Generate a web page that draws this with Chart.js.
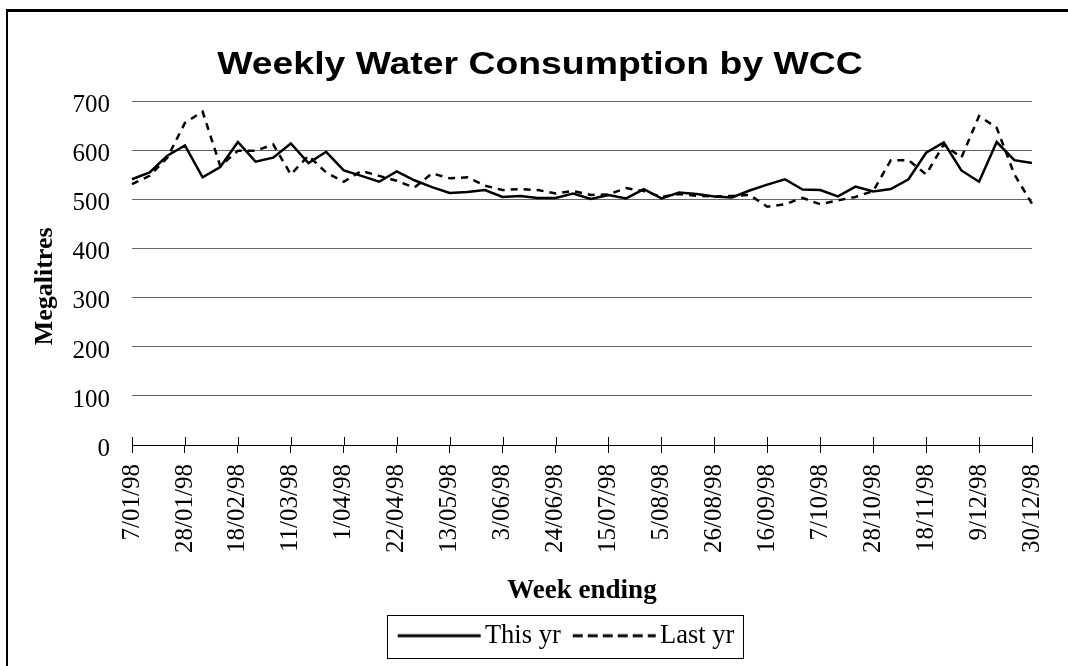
<!DOCTYPE html>
<html>
<head>
<meta charset="utf-8">
<script src="https://cdn.jsdelivr.net/npm/chart.js@4.4.0/dist/chart.umd.min.js"></script>
<style>
    html, body { margin: 0; padding: 0; background: #fff; overflow: hidden; }
    #frame { position: absolute; left: 6px; top: 9px; width: 1200px; height: 800px; border-left: 2px solid #000; border-top: 3px solid #000; }
    #wrap { position: absolute; left: 0; top: 0; width: 1068px; height: 666px; }
</style>
</head>
<body>
<div id="frame"></div>
<div id="wrap"><canvas id="myChart" width="1068" height="666"></canvas></div>
<script>
// week ending dates, 1998
const weeks = [
    '7/01/98', '14/01/98', '21/01/98', '28/01/98',
    '4/02/98', '11/02/98', '18/02/98', '25/02/98',
    '4/03/98', '11/03/98', '18/03/98', '25/03/98',
    '1/04/98', '8/04/98', '15/04/98', '22/04/98', '29/04/98',
    '6/05/98', '13/05/98', '20/05/98', '27/05/98',
    '3/06/98', '10/06/98', '17/06/98', '24/06/98',
    '1/07/98', '8/07/98', '15/07/98', '22/07/98', '29/07/98',
    '5/08/98', '12/08/98', '19/08/98', '26/08/98',
    '2/09/98', '9/09/98', '16/09/98', '23/09/98', '30/09/98',
    '7/10/98', '14/10/98', '21/10/98', '28/10/98',
    '4/11/98', '11/11/98', '18/11/98', '25/11/98',
    '2/12/98', '9/12/98', '16/12/98', '23/12/98', '30/12/98'
];

// megalitres per week
const thisYr = [
    542, 556, 590, 611, 546, 567, 618, 578, 586, 615, 575, 598, 560,
    549, 537, 558, 540, 526, 514, 516, 520, 506, 508, 504, 504, 513,
    502, 510, 503, 522, 503, 515, 512, 507, 505, 519, 531, 542, 521,
    520, 507, 527, 517, 522, 542, 596, 617, 560, 537, 618, 581, 575
];
const lastYr = [
    532, 549, 586, 657, 680, 569, 600, 600, 613, 552, 590, 556, 537,
    559, 549, 539, 525, 554, 544, 546, 529, 520, 522, 520, 513, 518,
    510, 511, 524, 518, 506, 512, 508, 507, 508, 510, 486, 491, 504,
    491, 499, 506, 518, 581, 581, 552, 613, 586, 671, 647, 552, 492
];

const yMin = 0;
const yMax = 700;
const yStep = 100;
const labelEvery = 3;

const serif = 'Liberation Serif';
const titleStretch = 1.186;   // the original title is drawn wide

// little line pictures for the legend (Chart.js skips the dash on point-style legends)
function lineSample(dash) {
    const c = document.createElement('canvas');
    c.width = 94;
    c.height = 6;
    const g = c.getContext('2d');
    g.strokeStyle = '#000';
    g.lineWidth = 3;
    g.setLineDash(dash);
    g.beginPath();
    g.moveTo(10, 3);
    g.lineTo(93, 3);
    g.stroke();
    return c;
}

// legend box, upper half of the x ticks, and nudging title/legend sideways
const extras = {
    id: 'extras',
    afterLayout(chart) {
        chart.legend.left += 50;
        chart.legend.right += 50;
        const tb = chart.titleBlock;
        tb.left += 24;
        tb.right += 24;
        if (!tb._stretched) {
            const draw = tb.draw;
            tb.draw = function () {
                const c = this.ctx;
                const cx = (this.left + this.right) / 2;
                c.save();
                c.translate(cx, 0);
                c.scale(titleStretch, 1);
                c.translate(-cx, 0);
                draw.call(this);
                c.restore();
            };
            tb._stretched = true;
        }
    },
    afterDraw(chart) {
        const ctx = chart.ctx;
        const xs = chart.scales.x;
        const bottom = chart.chartArea.bottom;
        ctx.save();
        ctx.strokeStyle = '#000';
        ctx.lineWidth = 1;
        ctx.beginPath();
        for (let i = 0; i < weeks.length; i += labelEvery) {
            const px = Math.round(xs.getPixelForValue(i)) + 0.5;
            ctx.moveTo(px, bottom - 8);
            ctx.lineTo(px, bottom);
        }
        ctx.stroke();

        const hb = chart.legend.legendHitBoxes;
        if (hb && hb.length) {
            let l = Infinity, r = -Infinity, t = Infinity, b = -Infinity;
            hb.forEach(h => {
                l = Math.min(l, h.left);
                r = Math.max(r, h.left + h.width);
                t = Math.min(t, h.top);
                b = Math.max(b, h.top + h.height);
            });
            ctx.strokeRect(Math.round(l - 11) + 0.5, Math.round(t - 8) + 0.5,
                Math.round(r - l + 19), Math.round(b - t + 16));
        }
        ctx.restore();
    }
};

const ctx = document.getElementById('myChart').getContext('2d');
const myChart = new Chart(ctx, {
    type: 'line',
    data: {
        labels: weeks,
        datasets: [
            {
                label: 'This yr',
                data: thisYr,
                borderColor: '#000',
                backgroundColor: '#000',
                borderWidth: 2.5,
                pointRadius: 0,
                pointStyle: lineSample([]),
                tension: 0
            },
            {
                label: 'Last yr',
                data: lastYr,
                borderColor: '#000',
                backgroundColor: '#000',
                borderWidth: 2.5,
                borderDash: [7, 6],
                pointRadius: 0,
                pointStyle: lineSample([10, 5]),
                tension: 0
            }
        ]
    },
    options: {
        responsive: false,
        animation: false,
        devicePixelRatio: 1,
        layout: {
            padding: { left: 0, right: 36, top: 0, bottom: 7 }
        },
        plugins: {
            title: {
                display: true,
                text: 'Weekly Water Consumption by WCC',
                color: '#000',
                font: { family: 'Liberation Sans', size: 31.5, weight: 'bold' },
                padding: { top: 46, bottom: 18 }
            },
            legend: {
                position: 'bottom',
                labels: {
                    color: '#000',
                    font: { family: serif, size: 26.5 },
                    usePointStyle: true,
                    pointStyleWidth: 74,
                    padding: 12
                }
            },
            tooltip: { enabled: false }
        },
        scales: {
            x: {
                afterFit: function (scale) {
                    scale.height = 165.5;
                    scale.paddingLeft = 0;
                    scale.paddingRight = 0;
                },
                grid: {
                    drawOnChartArea: false,
                    drawTicks: true,
                    tickLength: 8,
                    tickWidth: 1,
                    tickColor: c => (c.index % labelEvery === 0 ? '#000' : 'rgba(0,0,0,0)')
                },
                border: { display: true, color: '#000', width: 1 },
                ticks: {
                    autoSkip: false,
                    minRotation: 90,
                    maxRotation: 90,
                    padding: 11,
                    color: '#000',
                    font: { family: serif, size: 25 },
                    callback: function (value, index) {
                        return index % labelEvery === 0 ? weeks[index] : '';
                    }
                },
                title: {
                    display: true,
                    text: 'Week ending',
                    color: '#000',
                    font: { family: serif, size: 27, weight: 'bold' },
                    padding: { top: 0, bottom: 3 }
                }
            },
            y: {
                min: yMin,
                max: yMax,
                afterFit: function (scale) { scale.width = 132; },
                grid: {
                    drawTicks: false,
                    color: c => (c.tick && c.tick.value === 0 ? '#000' : '#666'),
                    lineWidth: 1
                },
                border: { display: false },
                ticks: {
                    stepSize: yStep,
                    padding: 22,
                    labelOffset: 4,
                    color: '#000',
                    font: { family: serif, size: 25 }
                },
                title: {
                    display: true,
                    text: 'Megalitres    ',
                    color: '#000',
                    font: { family: serif, size: 26, weight: 'bold' },
                    padding: { top: 30, bottom: 0 }
                }
            }
        }
    },
    plugins: [extras]
});
</script>
</body>
</html>
